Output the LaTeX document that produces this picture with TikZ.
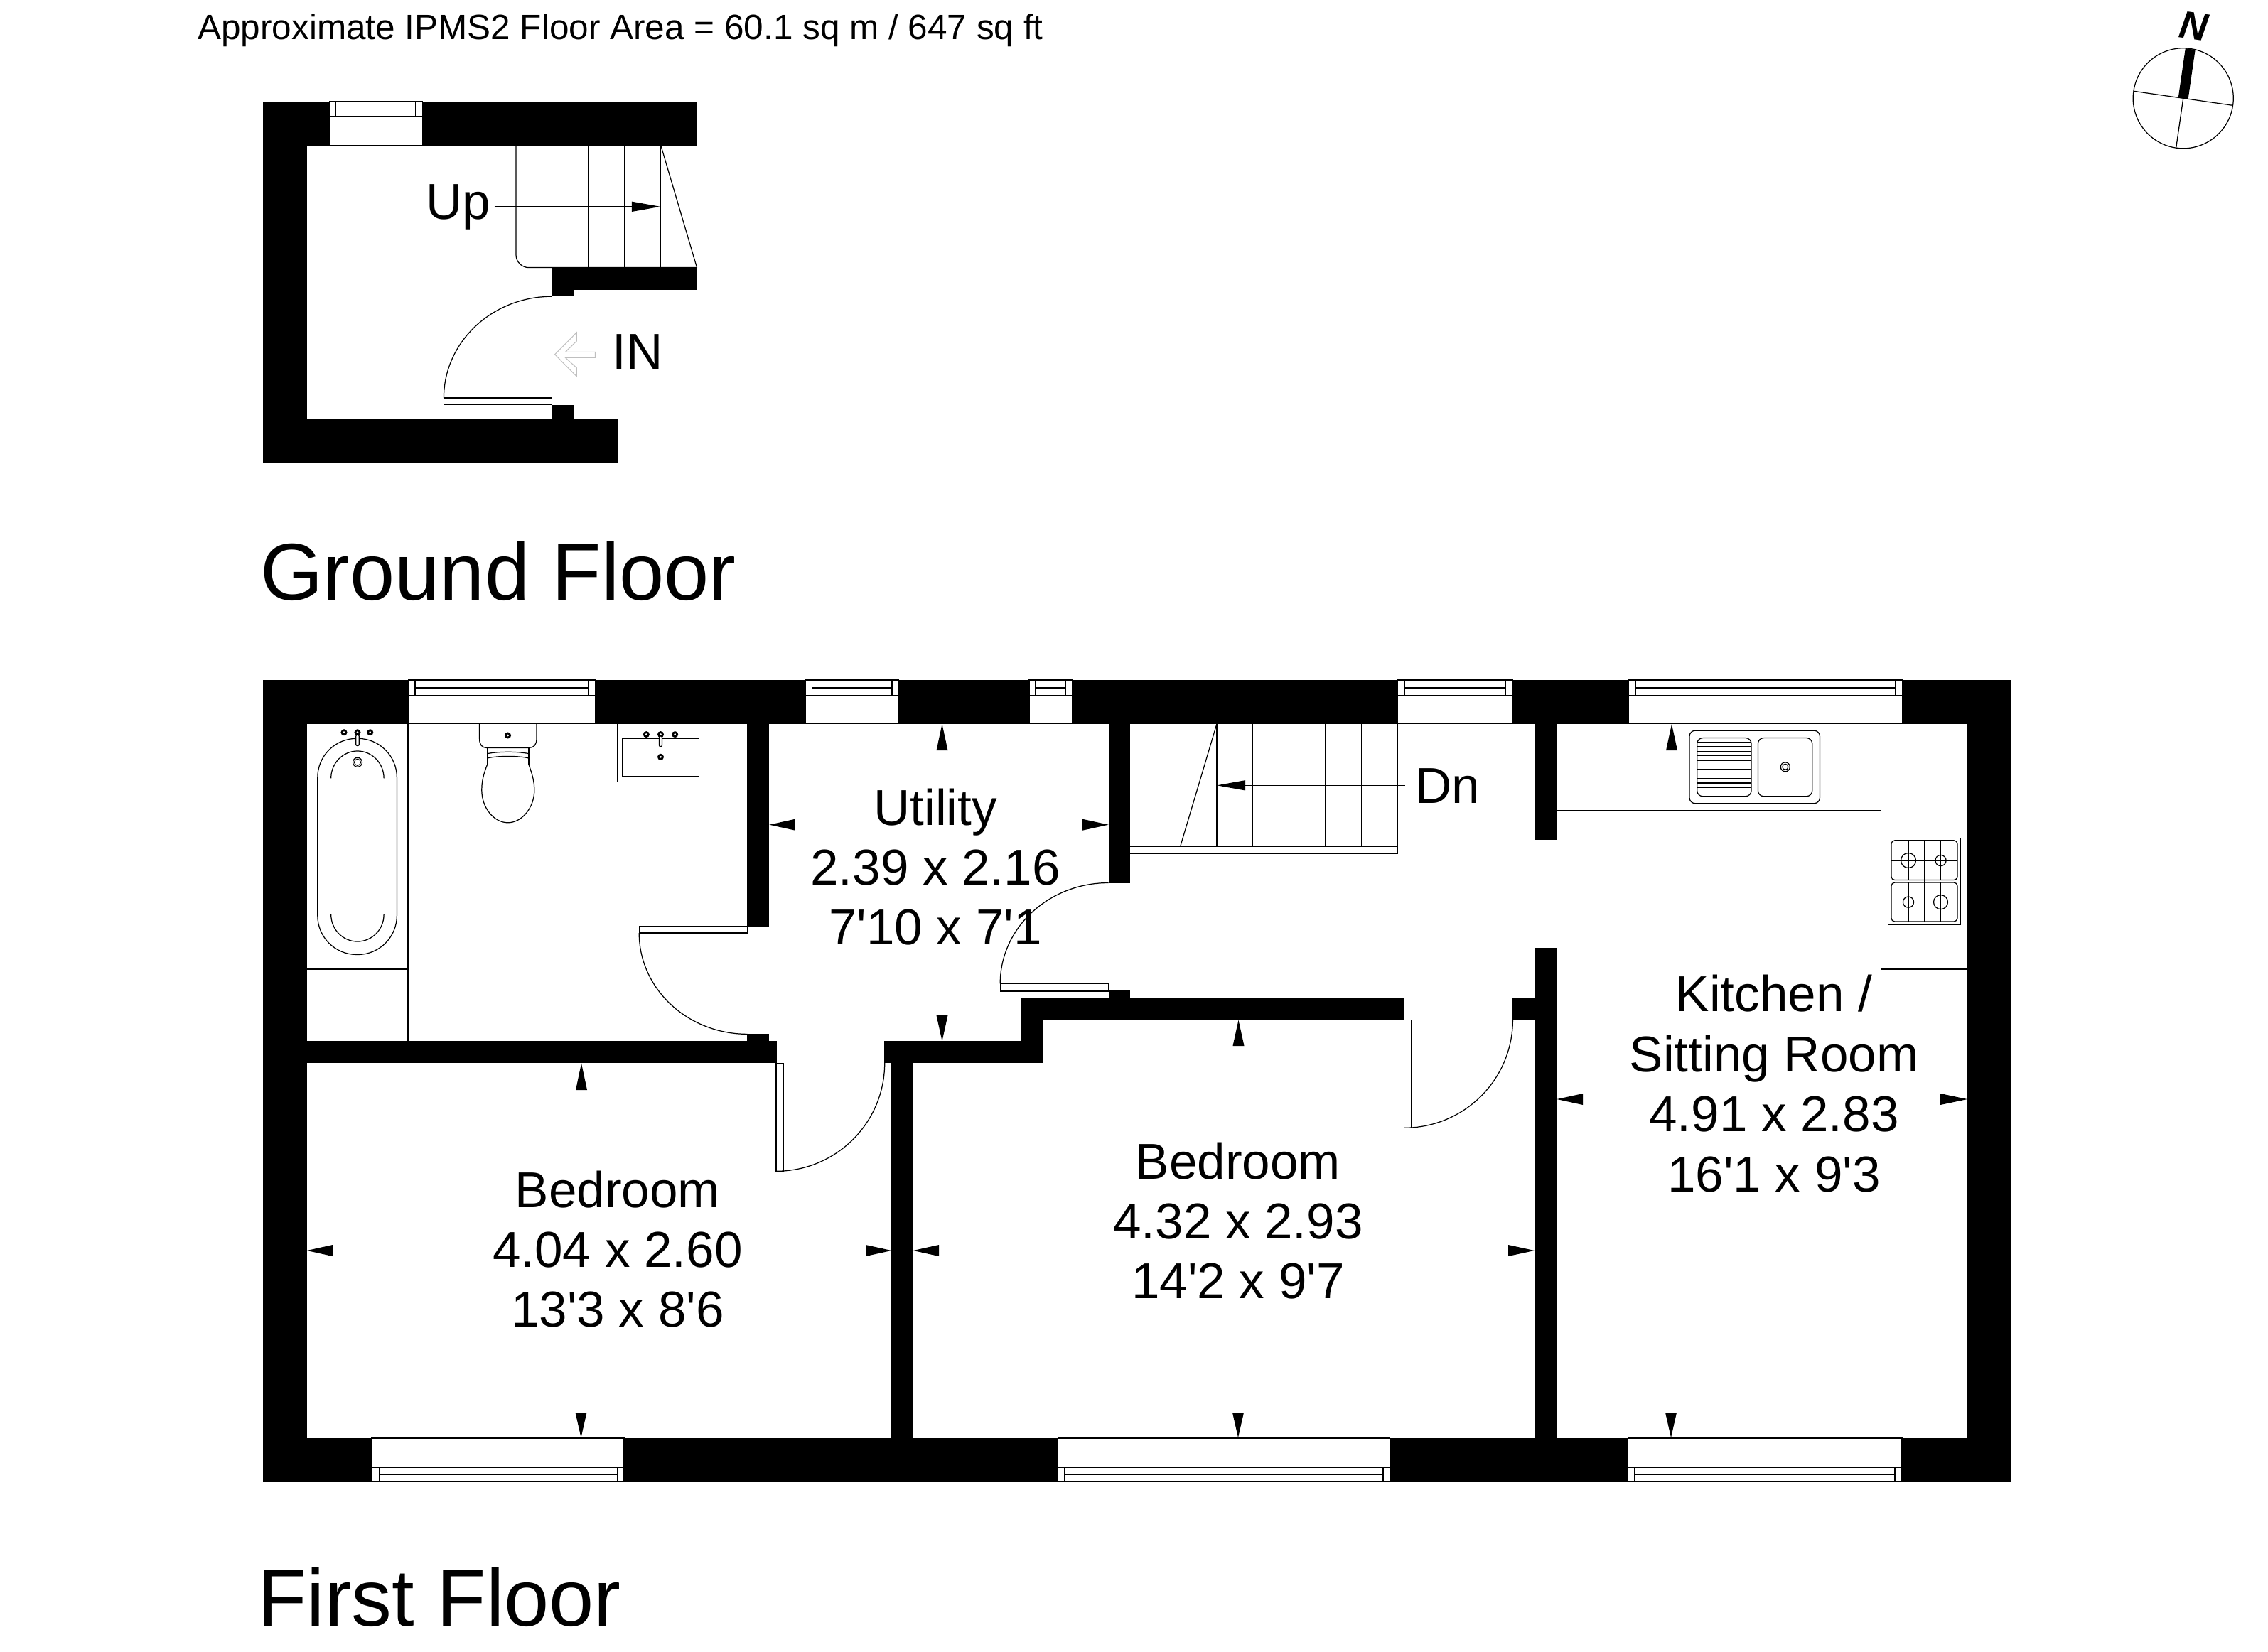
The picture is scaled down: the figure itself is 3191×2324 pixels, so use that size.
\documentclass[tikz,border=0pt]{standalone}
\usepackage{fontspec}
\setmainfont{Liberation Sans}
\usetikzlibrary{arrows.meta}

\begin{document}
\begin{tikzpicture}[
  x=0.01cm, y=-0.01cm,
  wall/.style={fill=black, draw=none},
  fitting/.style={draw=black, line width=0.35pt},
  panel/.style={fitting, fill=white},
  tapring/.style={draw=black, line width=0.8pt, fill=white},
  stairarrow/.style={fitting, -{Triangle[length=0.4cm, width=0.14cm]}},
  roomtext/.style={inner sep=0pt, align=center, font=\fontsize{20.2}{24}\selectfont},
  floortext/.style={inner sep=0pt, anchor=base, font=\fontsize{32.3}{38}\selectfont}
]
  \useasboundingbox (0,0) rectangle (3191,2324);

  \node[inner sep=0pt, anchor=base, font=\fontsize{14.07}{16}\selectfont] (area) at (873,55)
    {Approximate IPMS2 Floor Area = 60.1 sq m / 647 sq ft};

  \fill[wall] (369.5,143) rectangle (981,204.7);
  \fill[wall] (369.5,143) rectangle (432,652);
  \fill[wall] (369.5,590) rectangle (869,652);
  \fill[wall] (776.7,376.6) rectangle (981,407.6);
  \fill[wall] (776.7,376.6) rectangle (808,417.2);
  \fill[wall] (776.7,569.8) rectangle (808,590);

  \draw[panel] (463.6,143) rectangle (594.6,204.7);
  \draw[fitting] (463.6,164) -- (594.6,164);
  \draw[fitting] (472.7,153.4) -- (585,153.4);
  \draw[fitting] (472.7,143) -- (472.7,164);
  \draw[fitting] (585,143) -- (585,164);

  \draw[fitting, rounded corners=0.18cm] (726,204.7) -- (726,376.6) -- (980.5,376.6);
  \foreach \xs in {776.7,828,878.6,929.8}
    \draw[fitting] (\xs,204.7) -- (\xs,376.6);
  \draw[fitting] (929.8,204.7) -- (980.5,376.6);

  \node[roomtext, anchor=base] (up) at (644.5,308.7) {Up};
  \coordinate (upstart) at (695.6,290.8);
  \coordinate (upend) at (929,290.8);
  \draw[stairarrow] (upstart) -- (upend);

  \draw[panel] (624.5,560) rectangle (776.7,569.8);
  \draw[fitting] (776.7,417.2) arc[start angle=90, end angle=180, x radius=1.522cm, y radius=1.428cm];

  \node[roomtext, anchor=base] (in) at (897,519.5) {IN};
  \draw[draw=black!25, line width=0.3pt] (780.6,498.8) -- (811.4,467.8) -- (811.4,479.9) -- (795.4,495.4)
    -- (837.5,495.4) -- (837.5,503.3) -- (795.4,503.3) -- (811.4,517.8) -- (811.4,529.8) -- cycle;

  \node[floortext] (ground) at (701,844) {Ground Floor};

  \fill[wall] (369.5,957) rectangle (2830,1018.6);
  \fill[wall] (369.5,2024) rectangle (2830,2085.7);
  \fill[wall] (369.5,957) rectangle (431.7,2085.7);
  \fill[wall] (2768,957) rectangle (2830,2085.7);
  \fill[wall] (1051,1018.6) rectangle (1082.4,1303.5);
  \fill[wall] (1051,1455.3) rectangle (1082.4,1465.3);
  \fill[wall] (431.7,1465.3) rectangle (1092.5,1496.4);
  \fill[wall] (1254.4,1496) rectangle (1284.8,2024);
  \fill[wall] (1244.3,1465.3) rectangle (1467.8,1496.4);
  \fill[wall] (1437.2,1404.2) rectangle (1467.8,1496.4);
  \fill[wall] (1437.2,1404.2) rectangle (1976,1435.6);
  \fill[wall] (1559.6,1394) rectangle (1590,1404.2);
  \fill[wall] (1559.6,1018.6) rectangle (1590.2,1242.5);
  \fill[wall] (2158.9,1018.6) rectangle (2190,1182);
  \fill[wall] (2158.9,1333.5) rectangle (2190,2024);
  \fill[wall] (2128.3,1404.2) rectangle (2159,1435.6);

  \foreach \xa/\xb/\xc/\xd in {574.5/584/828/837.6, 1133.4/1142.5/1255/1264.2, 1447.9/1457/1499/1508.4,
      1966/1976/2118/2128.3, 2291/2301.5/2666.7/2676.5} {
    \draw[panel] (\xa,957) rectangle (\xd,1018.6);
    \draw[fitting] (\xa,978.2) -- (\xd,978.2);
    \draw[fitting] (\xb,968) -- (\xc,968);
    \draw[fitting] (\xb,957) -- (\xb,978.2);
    \draw[fitting] (\xc,957) -- (\xc,978.2);
  }
  \foreach \xa/\xb/\xc/\xd in {522.6/533.7/868.5/878, 1488.6/1498/1946/1955.6, 2290.4/2300/2666/2676} {
    \draw[panel] (\xa,2024) rectangle (\xd,2085.7);
    \draw[fitting] (\xa,2065.3) -- (\xd,2065.3);
    \draw[fitting] (\xb,2075.3) -- (\xc,2075.3);
    \draw[fitting] (\xb,2065.3) -- (\xb,2085.7);
    \draw[fitting] (\xc,2065.3) -- (\xc,2085.7);
  }

  \foreach \xs/\ya/\yb in {817.5/2023.3/1988, 1742/2023.3/1988, 2351/2023.3/1988, 1325.5/1019/1056,
      1325.5/1465.3/1429, 2352/1019/1056, 1742.5/1435.6/1472, 818/1496.4/1534}
    \fill[wall] (\xs,\ya) -- (\xs-8,\yb) -- (\xs+8,\yb) -- cycle;
  \foreach \ys/\xa/\xb in {1160.7/1082.4/1118.8, 1160.7/1559.6/1523, 1547/2190.4/2227, 1547/2768/2730,
      1760/431.7/468, 1760/1254.4/1218, 1760/1284.8/1321, 1760/2158.9/2122}
    \fill[wall] (\xa,\ys) -- (\xb,\ys-8) -- (\xb,\ys+8) -- cycle;

  \draw[fitting] (574,1018.6) -- (574,1465.3);
  \draw[fitting] (431.7,1364) -- (574,1364);
  \draw[fitting, rounded corners=0.55cm] (446.8,1039.3) rectangle (558.4,1343.5);
  \draw[fitting] (465.7,1095.3) arc[start angle=180, end angle=0, x radius=0.372cm, y radius=0.383cm];
  \draw[fitting] (465.7,1287) arc[start angle=180, end angle=360, x radius=0.372cm, y radius=0.38cm];
  \foreach \xs in {484,503,520.8}
    \draw[tapring] (\xs,1030.7) circle[radius=0.03cm];
  \draw[panel, rounded corners=0.02cm] (500.8,1034) rectangle (505.2,1049.6);
  \draw[fitting] (503,1072.8) circle[radius=0.065cm];
  \draw[fitting] (503,1072.8) circle[radius=0.045cm];

  \draw[fitting] (674.6,1018.6) -- (674.6,1040) .. controls (674.6,1048) and (678,1052.5) .. (685.6,1052.5)
    -- (744,1052.5) .. controls (751,1052.5) and (755,1048) .. (755,1040) -- (755,1018.6);
  \draw[fitting] (685.6,1052.5) -- (685.6,1076);
  \draw[fitting] (744,1052.5) -- (744,1076);
  \draw[fitting] (685.6,1060.7) .. controls (700,1057.5) and (730,1057.5) .. (744,1060.7);
  \draw[fitting] (685.6,1067) .. controls (700,1063.5) and (730,1063.5) .. (744,1067);
  \draw[fitting] (685.6,1076) .. controls (680,1090) and (677.8,1100) .. (677.8,1112)
    .. controls (677.8,1137) and (695,1157.8) .. (714.6,1157.8)
    .. controls (734,1157.8) and (751.8,1137) .. (751.8,1112)
    .. controls (751.8,1100) and (749,1090) .. (744,1076);
  \draw[tapring] (714.6,1035) circle[radius=0.03cm];

  \draw[fitting] (868.4,1018.6) rectangle (990.5,1100.3);
  \draw[fitting] (875.3,1039.3) rectangle (983.6,1092.8);
  \foreach \xs in {909.3,929.5,949.7}
    \draw[tapring] (\xs,1033.6) circle[radius=0.03cm];
  \draw[panel, rounded corners=0.02cm] (927.4,1036) rectangle (931.6,1050.7);
  \draw[tapring] (929.5,1065.3) circle[radius=0.03cm];

  \draw[panel] (899.2,1303.5) rectangle (1051.6,1313);
  \draw[fitting] (899.2,1313) arc[start angle=180, end angle=270, x radius=1.524cm, y radius=1.423cm];

  \draw[panel] (1092,1496.3) rectangle (1102,1648.3);
  \draw[fitting] (1092,1648.3) arc[start angle=270, end angle=360, x radius=1.526cm, y radius=1.52cm];

  \draw[panel] (1407.3,1384.2) rectangle (1559.6,1395);
  \draw[fitting] (1559.6,1242.5) arc[start angle=90, end angle=180, x radius=1.523cm, y radius=1.417cm];

  \draw[panel] (1975.7,1435.3) rectangle (1985.7,1587.3);
  \draw[fitting] (1975.7,1587.3) arc[start angle=270, end angle=360, x radius=1.526cm, y radius=1.52cm];

  \draw[fitting] (1590,1191) -- (1966,1191);
  \draw[fitting] (1590,1201.8) -- (1966,1201.8);
  \draw[fitting] (1966,1018.6) -- (1966,1201.8);
  \foreach \xs in {1712,1762.4,1813.7,1864.2,1915.5}
    \draw[fitting] (\xs,1018.6) -- (\xs,1191);
  \draw[fitting] (1712,1018.6) -- (1660.7,1191);

  \node[roomtext, anchor=base] (dn) at (2037,1130.3) {Dn};
  \coordinate (dnstart) at (1976.7,1105.3);
  \coordinate (dnend) at (1712,1105.3);
  \draw[stairarrow] (dnstart) -- (dnend);

  \draw[fitting] (2190,1141) -- (2646.6,1141) -- (2646.6,1364) -- (2768,1364);

  \draw[fitting, rounded corners=0.08cm] (2377,1028.2) rectangle (2560.4,1130.7);
  \draw[fitting, rounded corners=0.08cm] (2387.7,1038.6) rectangle (2464,1120.7);
  \draw[fitting, rounded corners=0.08cm] (2473.4,1038.6) rectangle (2549.7,1120.7);
  \foreach \ys in {0,...,11}
    \draw[fitting] (2387.7,1044.3+6.4*\ys) -- (2464,1044.3+6.4*\ys);
  \draw[fitting] (2511.8,1079.3) circle[radius=0.065cm];
  \draw[fitting] (2511.8,1079.3) circle[radius=0.04cm];

  \draw[fitting] (2656.4,1179.3) rectangle (2758,1301.7);
  \draw[fitting, rounded corners=0.05cm] (2660.9,1182.8) rectangle (2754,1238.5);
  \draw[fitting, rounded corners=0.05cm] (2660.9,1242) rectangle (2754,1297);
  \draw[fitting] (2707.7,1182.8) -- (2707.7,1297);
  \foreach \xs in {2685,2730.5} {
    \draw[fitting] (\xs,1182.8) -- (\xs,1238.5);
    \draw[fitting] (\xs,1242) -- (\xs,1297);
  }
  \foreach \ys in {1211,1269.6}
    \draw[fitting] (2660.9,\ys) -- (2754,\ys);
  \foreach \xs/\ys/\rs in {2685/1211/0.105cm, 2730.5/1211/0.076cm, 2685/1269.6/0.076cm, 2730.5/1269.6/0.1cm}
    \draw[fitting] (\xs,\ys) circle[radius=\rs];

  \node[roomtext] (utility) at (1316,1220) {Utility\\2.39 x 2.16\\7\textquotesingle 10 x 7\textquotesingle 1};
  \node[roomtext] (bedrooma) at (869,1758) {Bedroom\\4.04 x 2.60\\13\textquotesingle 3 x 8\textquotesingle 6};
  \node[roomtext] (bedroomb) at (1742,1718) {Bedroom\\4.32 x 2.93\\14\textquotesingle 2 x 9\textquotesingle 7};
  \node[roomtext] (kitchen) at (2496,1525) {Kitchen /\\Sitting Room\\4.91 x 2.83\\16\textquotesingle 1 x 9\textquotesingle 3};

  \node[floortext] (first) at (618,2288) {First Floor};

  \begin{scope}[shift={(3071.7,138.3)}, rotate=-8.2]
    \draw[line width=0.35pt] (0,0) circle[radius=0.705cm];
    \fill[wall] (-7,0) rectangle (7,-70);
    \draw[line width=0.35pt] (-70.5,0) -- (70.5,0);
    \draw[line width=0.35pt] (0,0) -- (0,70.5);
    \node[inner sep=0pt, rotate=-8.2, font=\fontsize{15.5}{18}\selectfont\bfseries\itshape] (north) at (0,-103) {N};
  \end{scope}
\end{tikzpicture}
\end{document}
